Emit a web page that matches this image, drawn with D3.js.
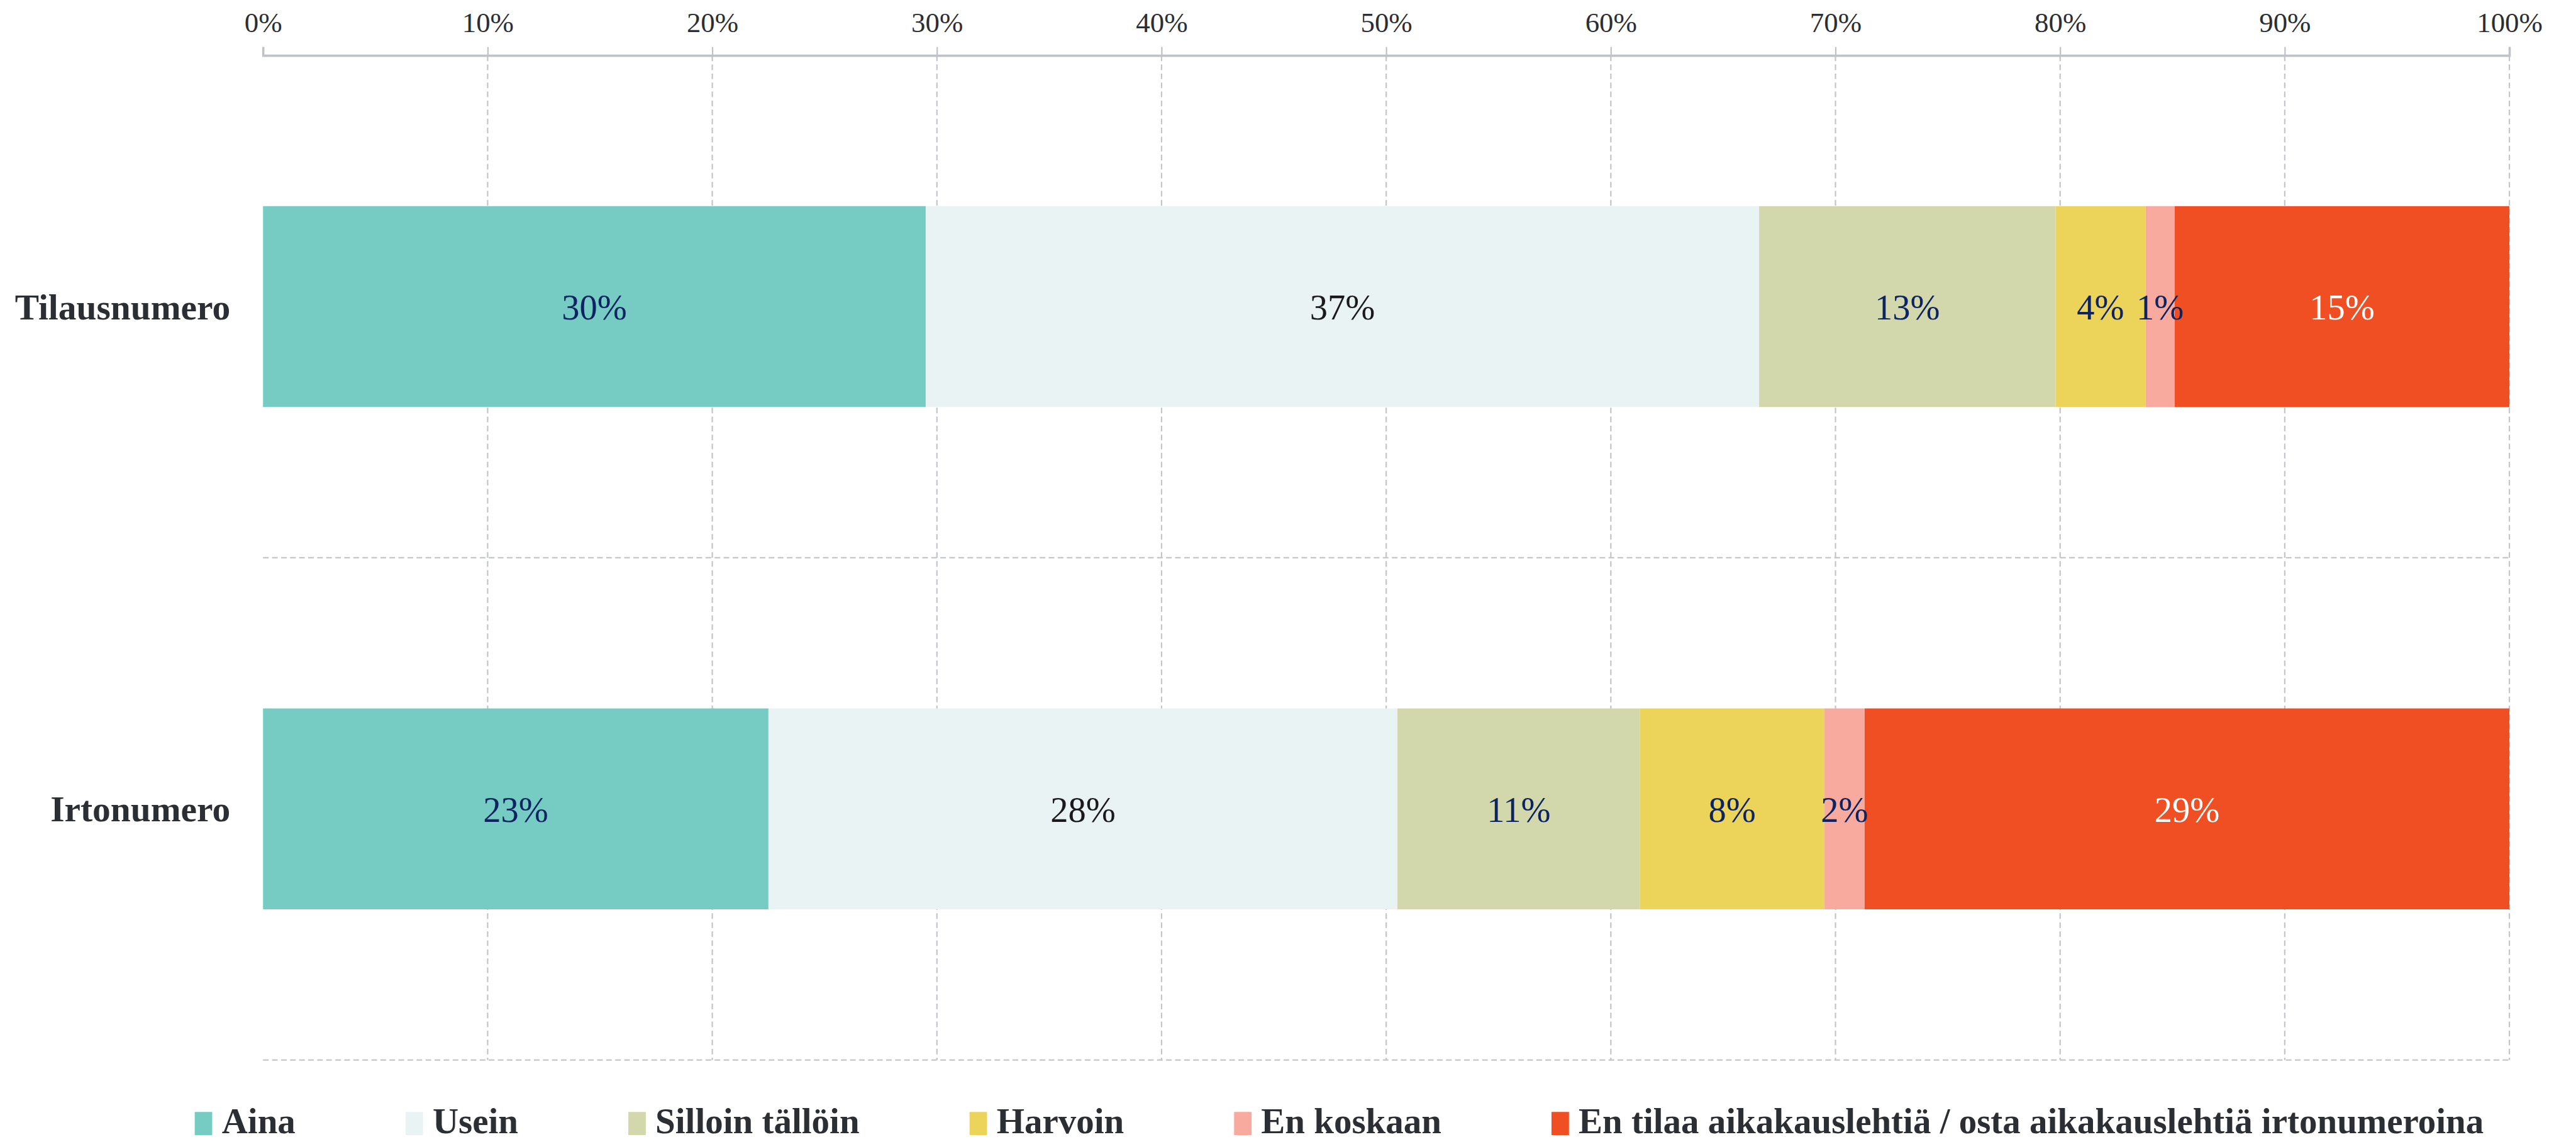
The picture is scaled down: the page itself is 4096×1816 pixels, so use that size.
<!DOCTYPE html>
<html>
<head>
<meta charset="utf-8">
<script src="https://cdn.jsdelivr.net/npm/d3@7"></script>
<style>
  body { margin: 0; background: #ffffff; }
  svg { display: block; }
</style>
</head>
<body>
<div id="vis"></div>
<script>
// data (percent of respondents)
const CATEGORIES = ["Tilausnumero", "Irtonumero"];
const SERIES = ["Aina", "Usein", "Silloin tällöin", "Harvoin", "En koskaan",
                "En tilaa aikakauslehtiä / osta aikakauslehtiä irtonumeroina"];
const VALUES_TILAUS = [29.5, 37.1, 13.2, 4.0, 1.3, 14.9];
const VALUES_IRTO = [22.5, 28.0, 10.8, 8.2, 1.8, 28.7];
const TICK_VALUES = [0, 10, 20, 30, 40, 50, 60, 70, 80, 90, 100];
const COLORS = ["#76cbc3", "#eaf3f4", "#d3d8ac", "#ecd45a", "#f7aa9d", "#f04e23"];
const LABEL_COLORS = ["#0c2461", "#1a1a1a", "#0c2461", "#0c2461", "#0c2461", "#ffffff"];

// drawn in the reference's own pixel space, the viewBox shrinks it to the window
const REF_WIDTH = 4564;
const REF_HEIGHT = 2023;
const MARGINS = {left: 466, right: 118, top: 98, bottom: 145};
const FONT = "'Liberation Serif', 'Times New Roman', serif";
const GRID_COLOR = "#c3c6ca";
const TEXT_COLOR = "#2b2e33";

const SVG = d3.select("#vis")
              .append("svg")
                .attr("width", 4096)
                .attr("height", 1816)
                .attr("viewBox", "0 0 " + REF_WIDTH + " " + REF_HEIGHT);

const X_SCALE = d3.scaleLinear()
                  .domain([0, 100])
                  .range([MARGINS.left, REF_WIDTH - MARGINS.right]);

const Y_SCALE = d3.scaleBand()
                  .domain(CATEGORIES)
                  .range([MARGINS.top, REF_HEIGHT - MARGINS.bottom])
                  .paddingInner(0.6)
                  .paddingOuter(0.3);

// stack the rows into segments
const ROWS = [VALUES_TILAUS, VALUES_IRTO];
const segments = [];
ROWS.forEach((vals, r) => {
  let start = 0;
  vals.forEach((v, i) => {
    segments.push({cat: CATEGORIES[r], series: i, x0: start, x1: start + v, value: v});
    start += v;
  });
});

// vertical dashed gridlines
SVG.append("g")
    .selectAll("line")
    .data(TICK_VALUES.filter((d) => d > 0))
    .enter()
    .append("line")
      .attr("x1", (d) => X_SCALE(d))
      .attr("x2", (d) => X_SCALE(d))
      .attr("y1", MARGINS.top)
      .attr("y2", REF_HEIGHT - MARGINS.bottom)
      .attr("stroke", GRID_COLOR)
      .attr("stroke-width", 2.5)
      .attr("stroke-dasharray", "10,6");

// horizontal dashed lines at the band edges
const STEP = Y_SCALE.step();
SVG.append("g")
    .selectAll("line")
    .data(CATEGORIES)
    .enter()
    .append("line")
      .attr("x1", X_SCALE(0))
      .attr("x2", X_SCALE(100))
      .attr("y1", (d, i) => MARGINS.top + STEP * (i + 1))
      .attr("y2", (d, i) => MARGINS.top + STEP * (i + 1))
      .attr("stroke", GRID_COLOR)
      .attr("stroke-width", 2.5)
      .attr("stroke-dasharray", "10,6");

// bars
SVG.append("g")
    .selectAll("rect")
    .data(segments)
    .enter()
    .append("rect")
      .attr("x", (d) => X_SCALE(d.x0))
      .attr("y", (d) => Y_SCALE(d.cat))
      .attr("width", (d) => X_SCALE(d.x1) - X_SCALE(d.x0))
      .attr("height", Y_SCALE.bandwidth())
      .attr("fill", (d) => COLORS[d.series]);

// value labels
SVG.append("g")
    .selectAll("text")
    .data(segments)
    .enter()
    .append("text")
      .attr("x", (d) => X_SCALE((d.x0 + d.x1) / 2))
      .attr("y", (d) => Y_SCALE(d.cat) + Y_SCALE.bandwidth() / 2)
      .attr("dy", "0.36em")
      .attr("text-anchor", "middle")
      .attr("font-family", FONT)
      .attr("font-size", 63)
      .attr("fill", (d) => LABEL_COLORS[d.series])
      .text((d) => Math.round(d.value) + "%");

// top axis
const xAxis = SVG.append("g")
    .attr("transform", "translate(0," + MARGINS.top + ")")
    .call(d3.axisTop(X_SCALE)
            .tickValues(TICK_VALUES)
            .tickFormat((d) => d + "%")
            .tickSize(15)
            .tickSizeOuter(15)
            .tickPadding(26));
xAxis.select(".domain")
    .attr("stroke", "#bfc3c7")
    .attr("stroke-width", 4);
xAxis.selectAll(".tick line")
    .attr("stroke", "#bfc3c7")
    .attr("stroke-width", 2.5);
xAxis.selectAll(".tick text")
    .attr("font-family", FONT)
    .attr("font-size", 50)
    .attr("fill", TEXT_COLOR);

// category labels
SVG.append("g")
    .selectAll("text")
    .data(CATEGORIES)
    .enter()
    .append("text")
      .attr("x", 408)
      .attr("y", (d) => Y_SCALE(d) + Y_SCALE.bandwidth() / 2)
      .attr("dy", "0.35em")
      .attr("text-anchor", "end")
      .attr("font-family", FONT)
      .attr("font-weight", "bold")
      .attr("font-size", 64)
      .attr("fill", TEXT_COLOR)
      .text((d) => d);

// legend, laid out left to right
const LEGEND = SVG.append("g");
let lx = 345;
SERIES.forEach((name, i) => {
  LEGEND.append("rect")
      .attr("x", lx)
      .attr("y", 1970)
      .attr("width", 31)
      .attr("height", 41)
      .attr("fill", COLORS[i]);
  const t = LEGEND.append("text")
      .attr("x", lx + 48)
      .attr("y", 2008)
      .attr("font-family", FONT)
      .attr("font-weight", "bold")
      .attr("font-size", 63.5)
      .attr("fill", TEXT_COLOR)
      .text(name);
  lx = lx + 48 + t.node().getComputedTextLength() + 195;
});
</script>
</body>
</html>
